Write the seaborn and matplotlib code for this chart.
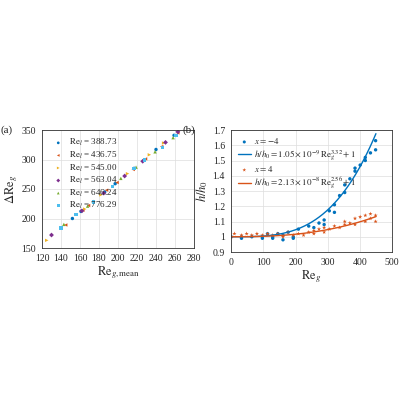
import numpy as np
import pandas as pd
import seaborn as sns
import matplotlib.pyplot as plt

sns.set_style("whitegrid")
plt.rcParams['font.family'] = ['Liberation Serif', 'DejaVu Serif']
plt.rcParams['mathtext.fontset'] = 'stix'

# panel (a) data
re_l = ["388.73", "436.75", "545.00", "563.04", "646.24", "776.29"]
x_a = [
    [152, 161, 186, 197, 217, 240, 259],
    [145, 163, 169, 188, 199, 216, 229, 246, 263],
    [125, 165, 182, 210, 233, 248],
    [130, 162, 185, 207, 226, 250, 263],
    [143, 168, 174, 203, 219, 239, 258],
    [140, 156, 174, 194, 217, 228, 247, 261],
]
y_a = [
    [200, 212, 245, 259, 285, 317, 341],
    [189, 214, 222, 248, 261, 283, 301, 322, 345],
    [163, 216, 240, 276, 308, 328],
    [172, 213, 243, 272, 297, 329, 347],
    [190, 221, 229, 268, 287, 313, 337],
    [184, 207, 228, 254, 285, 299, 320, 341],
]
colors_a = ['#0072BD', '#D95319', '#EDB120', '#7E2F8E', '#77AC30', '#4DBEEE']
markers_a = ['o', '<', '>', 'D', '^', 's']

# panel (b) data
x_neg = [0, 32, 32, 64, 97, 97, 113, 129, 129, 145, 161, 161, 177, 193, 193, 209, 241, 257, 273,
         289, 289, 305, 321, 321, 337, 353, 353, 369, 385, 385, 401, 417, 417, 433, 449, 449]
y_neg = [1.00, 0.99, 1.00, 1.00, 0.99, 1.00, 1.02, 0.99, 1.00, 1.02, 0.98, 1.01, 1.03, 0.99, 1.00,
         1.05, 1.07, 1.06, 1.09, 1.08, 1.11, 1.17, 1.16, 1.21, 1.27, 1.29, 1.34, 1.38, 1.43, 1.45,
         1.47, 1.50, 1.52, 1.55, 1.57, 1.63]
x_pos = [0, 10, 32, 48, 64, 80, 97, 113, 129, 145, 161, 177, 193, 209, 225, 241, 257, 257, 273,
         289, 289, 305, 321, 337, 353, 353, 369, 385, 385, 401, 417, 417, 433, 433, 449, 449]
y_pos = [1.00, 1.02, 1.01, 1.02, 1.01, 1.02, 1.01, 1.02, 1.01, 1.02, 1.00, 1.03, 1.01, 1.02, 1.01,
         1.03, 1.02, 1.04, 1.05, 1.03, 1.06, 1.05, 1.07, 1.06, 1.08, 1.10, 1.09, 1.12, 1.08, 1.13,
         1.10, 1.14, 1.15, 1.12, 1.14, 1.10]
fit_neg = (1.05e-9, 3.32)
fit_pos = (2.13e-8, 2.56)

fig = plt.figure(figsize=(4, 4), dpi=100)
ax1 = fig.add_axes([0.105, 0.38, 0.38, 0.295])
ax2 = fig.add_axes([0.578, 0.37, 0.402, 0.305])

for i in range(len(re_l)):
    sns.scatterplot(x=x_a[i], y=y_a[i], ax=ax1, color=colors_a[i], marker=markers_a[i], s=6,
                    edgecolor='none', label=r'$\mathrm{Re}_l$ = ' + re_l[i])
ax1.set_xlim(120, 280)
ax1.set_ylim(150, 350)
ax1.set_xticks(range(120, 281, 20))
ax1.set_xlabel(r'$\mathrm{Re}_{g,\mathrm{mean}}$', fontsize=9, labelpad=1)
ax1.set_ylabel(r'$\Delta\mathrm{Re}_g$', fontsize=9, labelpad=1)
ax1.legend(loc='upper left', fontsize=6.5, frameon=False, handletextpad=0.2, labelspacing=0.15,
           borderpad=0.3, markerscale=0.8)
ax1.text(-0.27, 1.0, '(a)', transform=ax1.transAxes, fontsize=8, va='center')

xs = np.linspace(0, 450, 200)
sns.scatterplot(x=x_neg, y=y_neg, ax=ax2, color='#0072BD', s=6, edgecolor='none', label=r'$x=-4$')
sns.lineplot(x=xs, y=fit_neg[0] * xs ** fit_neg[1] + 1, ax=ax2, color='#0072BD', lw=1,
             label=r'$h/h_0 = 1.05\times10^{-9}\,\mathrm{Re}_g^{3.32}+1$')
sns.scatterplot(x=x_pos, y=y_pos, ax=ax2, color='#D95319', marker='*', s=10, edgecolor='none',
                label=r'$x=4$')
sns.lineplot(x=xs, y=fit_pos[0] * xs ** fit_pos[1] + 1, ax=ax2, color='#D95319', lw=1,
             label=r'$h/h_0 = 2.13\times10^{-8}\,\mathrm{Re}_g^{2.56}+1$')
ax2.set_xlim(0, 500)
ax2.set_ylim(0.9, 1.7)
ax2.set_yticks(np.arange(0.9, 1.71, 0.1))
ax2.set_yticklabels(['0.9', '1', '1.1', '1.2', '1.3', '1.4', '1.5', '1.6', '1.7'])
ax2.set_xlabel(r'$\mathrm{Re}_g$', fontsize=9, labelpad=1)
ax2.set_ylabel(r'$h/h_0$', fontsize=9, labelpad=2)
ax2.legend(loc='upper left', fontsize=6.5, frameon=False, handletextpad=0.3, labelspacing=0.2,
           borderpad=0.2, handlelength=1.5, markerscale=0.9)
ax2.text(-0.3, 1.0, '(b)', transform=ax2.transAxes, fontsize=8, va='center')

for ax in (ax1, ax2):
    ax.tick_params(labelsize=7, pad=1)
    for s in ax.spines.values():
        s.set_color('#333333')
        s.set_linewidth(0.6)
    ax.grid(color='#dddddd', lw=0.5)

fig.savefig('out.png', dpi=100)
